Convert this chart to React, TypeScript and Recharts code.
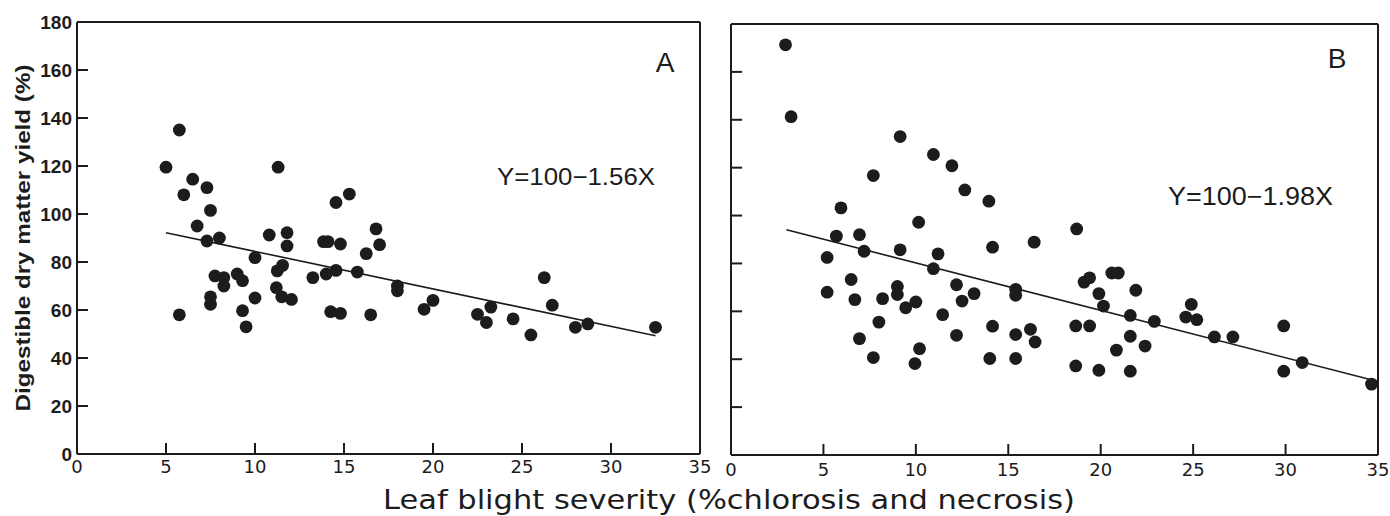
import React from 'react';
import { ScatterChart, Scatter, XAxis, YAxis, ReferenceLine } from 'recharts';

// Panel A: leaf blight severity (%) vs digestible dry matter yield (%)
const pointsA = [
  { x: 5.0, y: 119.5 }, { x: 5.75, y: 135 }, { x: 6.5, y: 114.5 }, { x: 6.0, y: 108 },
  { x: 7.3, y: 111 }, { x: 7.5, y: 101.5 }, { x: 6.75, y: 95 }, { x: 7.3, y: 88.75 },
  { x: 8.0, y: 90 }, { x: 10.8, y: 91.25 }, { x: 11.3, y: 119.5 }, { x: 11.8, y: 92.2 },
  { x: 11.8, y: 86.7 }, { x: 10.0, y: 81.8 }, { x: 13.85, y: 88.5 }, { x: 14.1, y: 88.5 },
  { x: 14.8, y: 87.5 }, { x: 14.55, y: 104.8 }, { x: 15.3, y: 108.3 }, { x: 16.8, y: 93.8 },
  { x: 17.0, y: 87.2 }, { x: 16.25, y: 83.5 }, { x: 5.75, y: 58 }, { x: 7.75, y: 74.2 },
  { x: 8.25, y: 73.5 }, { x: 8.25, y: 70 }, { x: 7.5, y: 65.5 }, { x: 7.5, y: 62.4 },
  { x: 9.0, y: 75 }, { x: 9.3, y: 72.2 }, { x: 9.3, y: 59.7 }, { x: 9.5, y: 53 },
  { x: 10.0, y: 65 }, { x: 11.25, y: 76.3 }, { x: 11.55, y: 78.6 }, { x: 11.2, y: 69.3 },
  { x: 11.5, y: 65.5 }, { x: 12.05, y: 64.4 }, { x: 13.25, y: 73.5 }, { x: 14.0, y: 75 },
  { x: 14.55, y: 76.5 }, { x: 14.25, y: 59.3 }, { x: 14.8, y: 58.6 }, { x: 15.75, y: 75.8 },
  { x: 16.5, y: 58 }, { x: 18.0, y: 70 }, { x: 18.0, y: 68 }, { x: 19.5, y: 60.3 },
  { x: 20.0, y: 64 }, { x: 22.5, y: 58.2 }, { x: 23.0, y: 54.8 }, { x: 23.25, y: 61.2 },
  { x: 24.5, y: 56.3 }, { x: 25.5, y: 49.6 }, { x: 26.25, y: 73.5 }, { x: 26.7, y: 62 },
  { x: 28.0, y: 52.8 }, { x: 28.7, y: 54.2 }, { x: 32.5, y: 52.8 },
];

// Panel B
const pointsB = [
  { x: 2.95, y: 171.3 }, { x: 3.25, y: 141.3 }, { x: 9.15, y: 133 }, { x: 10.95, y: 125.5 },
  { x: 11.95, y: 120.8 }, { x: 7.7, y: 116.7 }, { x: 12.65, y: 110.7 }, { x: 13.95, y: 106 },
  { x: 5.95, y: 103.2 }, { x: 10.15, y: 97.2 }, { x: 5.7, y: 91.4 }, { x: 6.95, y: 92 },
  { x: 16.4, y: 88.9 }, { x: 14.15, y: 86.8 }, { x: 7.2, y: 85.1 }, { x: 9.15, y: 85.7 },
  { x: 11.2, y: 84 }, { x: 5.2, y: 82.5 }, { x: 10.95, y: 77.8 }, { x: 6.5, y: 73.3 },
  { x: 5.2, y: 68 }, { x: 9.0, y: 70.4 }, { x: 9.0, y: 67 }, { x: 6.7, y: 64.9 },
  { x: 8.2, y: 65.3 }, { x: 9.45, y: 61.5 }, { x: 10.0, y: 63.9 }, { x: 12.2, y: 71.1 },
  { x: 12.5, y: 64.3 }, { x: 13.15, y: 67.4 }, { x: 15.4, y: 69.2 }, { x: 15.4, y: 66.7 },
  { x: 11.45, y: 58.6 }, { x: 8.0, y: 55.5 }, { x: 6.95, y: 48.6 }, { x: 7.7, y: 40.7 },
  { x: 10.2, y: 44.4 }, { x: 9.95, y: 38.2 }, { x: 12.2, y: 50 }, { x: 14.15, y: 53.8 },
  { x: 14.0, y: 40.3 }, { x: 15.4, y: 50.3 }, { x: 15.4, y: 40.3 }, { x: 16.2, y: 52.5 },
  { x: 16.45, y: 47.2 }, { x: 19.1, y: 72.2 }, { x: 19.4, y: 74 }, { x: 20.6, y: 76 },
  { x: 20.95, y: 76 }, { x: 19.9, y: 67.4 }, { x: 20.15, y: 62.2 }, { x: 21.9, y: 68.8 },
  { x: 21.6, y: 58.3 }, { x: 22.9, y: 55.8 }, { x: 18.65, y: 53.9 }, { x: 19.4, y: 53.9 },
  { x: 21.6, y: 49.6 }, { x: 20.85, y: 43.8 }, { x: 22.4, y: 45.5 }, { x: 18.65, y: 37.2 },
  { x: 19.9, y: 35.4 }, { x: 21.6, y: 35 }, { x: 24.9, y: 62.9 }, { x: 24.6, y: 57.6 },
  { x: 25.2, y: 56.5 }, { x: 26.15, y: 49.3 }, { x: 27.15, y: 49.3 }, { x: 29.9, y: 53.9 },
  { x: 29.9, y: 35 }, { x: 30.9, y: 38.6 }, { x: 34.65, y: 29.6 }, { x: 18.7, y: 94.4 },
];

// Regression line endpoints
const lineA = [{ x: 5, y: 92.2 }, { x: 32.5, y: 49.3 }];
const lineB = [{ x: 3, y: 94.1 }, { x: 35, y: 30.7 }];

const xTicks = [0, 5, 10, 15, 20, 25, 30, 35];
const yTicks = [0, 20, 40, 60, 80, 100, 120, 140, 160, 180];
// interior tick positions that get an inward tick mark
const xInnerTicks = [5, 10, 15, 20, 25, 30];
const yInnerTicks = [20, 40, 60, 80, 100, 120, 140, 160];

const equationA = 'Y=100\u22121.56X';
const equationB = 'Y=100\u22121.98X';
const xTitle = 'Leaf blight severity (%chlorosis and necrosis)';
const yTitle = 'Digestible dry matter yield (%)';

const INK = '#1c1c1c';

const Dot = (props: any) => (
  <circle cx={props.cx} cy={props.cy} r={6.4} fill={INK} />
);

const makeXTick = (labelGap: number) => (props: any) => {
  const { x, y, payload } = props;
  return (
    <text
      x={x}
      y={y + labelGap}
      textAnchor="middle"
      dominantBaseline="hanging"
      fontFamily="DejaVu Sans"
      fontSize={18}
      fill={INK}
    >
      {payload.value}
    </text>
  );
};

const YTick = (props: any) => {
  const { x, y, payload } = props;
  return (
    <text
      x={x - 5}
      y={y}
      dy="0.36em"
      textAnchor="end"
      fontFamily="Liberation Sans"
      fontWeight="bold"
      fontSize={19}
      fill={INK}
    >
      {payload.value}
    </text>
  );
};

const axisLineStyle = { stroke: INK, strokeWidth: 2 };

// inward tick marks drawn through the chart scales; lengths are in data units
const tickMarks = (xLen: number, yLen: number) => [
  ...xInnerTicks.map((v) => (
    <ReferenceLine
      key={`xt${v}`}
      segment={[{ x: v, y: 0 }, { x: v, y: yLen }]}
      stroke={INK}
      strokeWidth={2}
    />
  )),
  ...yInnerTicks.map((v) => (
    <ReferenceLine
      key={`yt${v}`}
      segment={[{ x: 0, y: v }, { x: xLen, y: v }]}
      stroke={INK}
      strokeWidth={2}
    />
  )),
];

export default function App() {
  return (
    <div style={{ position: 'absolute', left: 0, top: 0, width: 1390, height: 516, background: '#fff' }}>
      <div style={{ position: 'absolute', left: 0, top: 0 }}>
        <ScatterChart width={715} height={516} margin={{ top: 22, right: 15, bottom: 32, left: 0 }}>
          <XAxis
            type="number"
            dataKey="x"
            domain={[0, 35]}
            ticks={xTicks}
            interval={0}
            height={30}
            tickSize={0}
            tickMargin={0}
            tick={makeXTick(5)}
            tickLine={false}
            axisLine={axisLineStyle}
          />
          <YAxis
            type="number"
            dataKey="y"
            domain={[0, 180]}
            ticks={yTicks}
            interval={0}
            width={77}
            tickSize={0}
            tickMargin={0}
            tick={YTick}
            tickLine={false}
            axisLine={axisLineStyle}
          />
          <ReferenceLine y={180} stroke={INK} strokeWidth={2} />
          <ReferenceLine x={35} stroke={INK} strokeWidth={2} />
          {tickMarks(0.62, 4.6)}
          <ReferenceLine segment={lineA} stroke={INK} strokeWidth={1.6} />
          <Scatter data={pointsA} shape={Dot} isAnimationActive={false} />
        </ScatterChart>
      </div>
      <div style={{ position: 'absolute', left: 700, top: 0 }}>
        <ScatterChart width={690} height={516} margin={{ top: 24, right: 12, bottom: 31, left: 0 }}>
          <XAxis
            type="number"
            dataKey="x"
            domain={[0, 35]}
            ticks={xTicks}
            interval={0}
            height={30}
            tickSize={0}
            tickMargin={0}
            tick={makeXTick(7)}
            tickLine={false}
            axisLine={axisLineStyle}
          />
          <YAxis
            type="number"
            dataKey="y"
            domain={[0, 180]}
            ticks={yTicks}
            interval={0}
            width={31}
            tick={false}
            tickLine={false}
            axisLine={axisLineStyle}
          />
          <ReferenceLine y={180} stroke={INK} strokeWidth={2} />
          <ReferenceLine x={35} stroke={INK} strokeWidth={2} />
          {tickMarks(0.6, 4.6)}
          <ReferenceLine segment={lineB} stroke={INK} strokeWidth={1.6} />
          <Scatter data={pointsB} shape={Dot} isAnimationActive={false} />
        </ScatterChart>
      </div>
      <svg
        width={1390}
        height={516}
        style={{ position: 'absolute', left: 0, top: 0, pointerEvents: 'none' }}
      >
        <text
          x={729}
          y={509}
          textAnchor="middle"
          fontFamily="DejaVu Sans"
          fontSize={27}
          fill={INK}
          textLength={692}
          lengthAdjust="spacingAndGlyphs"
        >
          {xTitle}
        </text>
        <text
          x={0}
          y={0}
          transform="translate(30 238) rotate(-90)"
          textAnchor="middle"
          fontFamily="Liberation Sans"
          fontWeight="bold"
          fontSize={20}
          fill={INK}
          textLength={347}
          lengthAdjust="spacingAndGlyphs"
        >
          {yTitle}
        </text>
        <text x={665} y={72} textAnchor="middle" fontFamily="Liberation Sans" fontSize={28} fill={INK}>A</text>
        <text x={1337} y={68} textAnchor="middle" fontFamily="Liberation Sans" fontSize={28} fill={INK}>B</text>
        <text
          x={497}
          y={185}
          fontFamily="Liberation Sans"
          fontSize={24}
          fill={INK}
          textLength={158}
          lengthAdjust="spacingAndGlyphs"
        >
          {equationA}
        </text>
        <text
          x={1168}
          y={205}
          fontFamily="Liberation Sans"
          fontSize={25}
          fill={INK}
          textLength={165}
          lengthAdjust="spacingAndGlyphs"
        >
          {equationB}
        </text>
      </svg>
    </div>
  );
}
